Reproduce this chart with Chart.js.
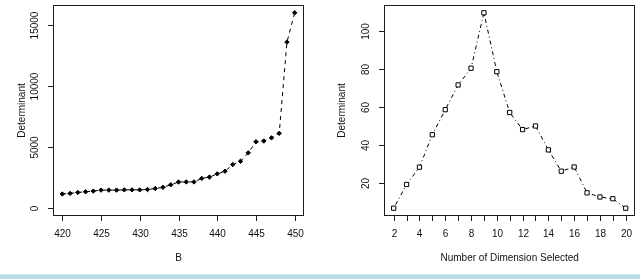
<!DOCTYPE html>
<html>
<head>
<meta charset="utf-8">
<script src="https://cdn.jsdelivr.net/npm/chart.js@4/dist/chart.umd.min.js"></script>
<style>
  html, body { margin: 0; padding: 0; background: #fff; }
  body { width: 640px; height: 279px; position: relative; overflow: hidden; }
  #left { position: absolute; left: 0; top: 0; }
  #right { position: absolute; left: 320px; top: 0; }
  .band { position: absolute; left: 0; top: 274px; width: 640px; height: 5px; background: #b8dce6; border-top: 1px solid #d6ebf1; box-sizing: border-box; }
</style>
</head>
<body>
<canvas id="left" width="320" height="274"></canvas>
<canvas id="right" width="320" height="274"></canvas>
<div class="band"></div>
<script>
// left panel: determinant against B
const leftB = [420, 421, 422, 423, 424, 425, 426, 427, 428, 429, 430, 431, 432, 433, 434,
               435, 436, 437, 438, 439, 440, 441, 442, 443, 444, 445, 446, 447, 448, 449, 450];
const leftDet = [1160, 1210, 1290, 1340, 1400, 1480, 1480, 1480, 1500, 1500, 1500, 1530, 1610, 1710, 1920,
                 2140, 2150, 2150, 2440, 2550, 2810, 3030, 3570, 3840, 4530, 5440, 5500, 5760, 6130, 13600, 16000];
const leftXTicks = [420, 425, 430, 435, 440, 445, 450];
const leftYTicks = [0, 5000, 10000, 15000];

// right panel: determinant against number of dimensions
const rightDim = [2, 3, 4, 5, 6, 7, 8, 9, 10, 11, 12, 13, 14, 15, 16, 17, 18, 19, 20];
const rightDet = [6.9, 19.4, 28.5, 45.6, 58.8, 71.8, 80.6, 109.8, 78.8, 57.3, 48.3, 50.2, 37.6, 26.4, 28.6, 15.0, 12.8, 11.9, 6.9];
const rightXTicks = [2, 3, 4, 5, 6, 7, 8, 9, 10, 11, 12, 13, 14, 15, 16, 17, 18, 19, 20];
const rightXLabels = [2, 4, 6, 8, 10, 12, 14, 16, 18, 20];
const rightYTicks = [20, 40, 60, 80, 100];

const FONT = '10px "Liberation Sans", Arial, sans-serif';

// R-style box, ticks and axis labels drawn from the chart's own scales
function makeAxes(cfg) {
    return {
        id: 'rAxes',
        afterDraw(chart) {
            const { ctx, chartArea: a, scales: { x, y } } = chart;
            ctx.save();
            ctx.strokeStyle = '#1a1a1a';
            ctx.lineWidth = 1;
            ctx.strokeRect(Math.round(a.left) + 0.5, Math.round(a.top) + 0.5,
                Math.round(a.right - a.left) - 1, Math.round(a.bottom - a.top) - 1);
            ctx.fillStyle = '#111';
            ctx.font = FONT;
            ctx.textAlign = 'center';
            ctx.textBaseline = 'middle';

            const bottom = Math.round(a.bottom);
            cfg.xTicks.forEach(v => {
                const px = Math.round(x.getPixelForValue(v)) + 0.5;
                ctx.beginPath();
                ctx.moveTo(px, bottom - 1);
                ctx.lineTo(px, bottom + 5);
                ctx.stroke();
                if (cfg.xLabels.includes(v)) ctx.fillText(String(v), px, bottom + 18.5);
            });

            const left = Math.round(a.left);
            cfg.yTicks.forEach(v => {
                const py = Math.round(y.getPixelForValue(v)) + 0.5;
                ctx.beginPath();
                ctx.moveTo(left + 1, py);
                ctx.lineTo(left - 5, py);
                ctx.stroke();
                ctx.save();
                ctx.translate(left - 18, py);
                ctx.rotate(-Math.PI / 2);
                ctx.fillText(String(v), 0, 0);
                ctx.restore();
            });

            ctx.fillText(cfg.xTitle, (a.left + a.right) / 2, bottom + 42);
            ctx.save();
            ctx.translate(22.3, (a.top + a.bottom) / 2);
            ctx.rotate(-Math.PI / 2);
            ctx.fillText(cfg.yTitle, 0, 0);
            ctx.restore();
            ctx.restore();
        }
    };
}

function makeChart(id, xs, ys, ds, scales, padding, axes) {
    return new Chart(document.getElementById(id), {
        type: 'line',
        data: {
            datasets: [Object.assign({
                data: xs.map((v, i) => ({ x: v, y: ys[i] })),
                borderColor: '#000',
                borderWidth: 1,
                tension: 0,
                fill: false
            }, ds)]
        },
        options: {
            responsive: false,
            animation: false,
            layout: { padding: padding },
            scales: {
                x: Object.assign({ type: 'linear', display: false }, scales.x),
                y: Object.assign({ type: 'linear', display: false }, scales.y)
            },
            plugins: { legend: { display: false }, tooltip: { enabled: false } }
        },
        plugins: [makeAxes(axes)]
    });
}

makeChart('left', leftB, leftDet,
    { borderDash: [4, 4], pointStyle: 'rectRot', pointRadius: 2.2, pointBorderWidth: 1,
      pointBackgroundColor: '#000', pointBorderColor: '#000' },
    { x: { min: 418.8, max: 451.2 }, y: { min: -640, max: 16640 } },
    { left: 53, right: 16, top: 0, bottom: 58 },
    { xTicks: leftXTicks, xLabels: leftXTicks, yTicks: leftYTicks, xTitle: 'B', yTitle: 'Determinant' });

makeChart('right', rightDim, rightDet,
    { borderDash: [1, 3, 4, 3], pointStyle: 'rect', pointRadius: 3, pointBorderWidth: 1,
      pointBackgroundColor: '#fff', pointBorderColor: '#000' },
    { x: { min: 1.28, max: 20.72 }, y: { min: 2.8, max: 113.9 } },
    { left: 64.4, right: 5, top: 0, bottom: 58 },
    { xTicks: rightXTicks, xLabels: rightXLabels, yTicks: rightYTicks, xTitle: 'Number of Dimension Selected', yTitle: 'Determinant' });
</script>
</body>
</html>
